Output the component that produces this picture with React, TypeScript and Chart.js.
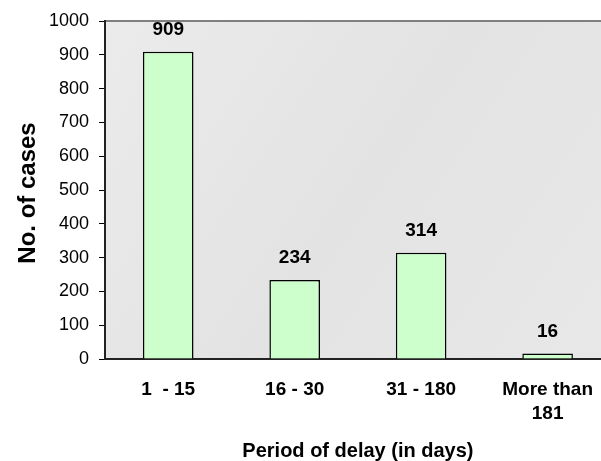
import React, { useEffect, useRef } from "react";
import { Chart, registerables } from "chart.js";

Chart.register(...registerables);

const CATEGORIES: (string | string[])[] = ["1  - 15", "16 - 30", "31 - 180", ["More than", "181"]];
const CASES: number[] = [909, 234, 314, 16];
const Y_TICKS: number[] = [0, 100, 200, 300, 400, 500, 600, 700, 800, 900, 1000];
const X_TITLE = "Period of delay (in days)";
const Y_TITLE = "No. of cases";

const FONT = '"Liberation Sans", Arial, sans-serif';

const backgroundPlugin = {
  id: "marbleBg",
  beforeDraw(chart: any) {
    const { ctx, chartArea } = chart;
    const { left, top, right, bottom } = chartArea;
    ctx.save();
    const g = ctx.createLinearGradient(left, top, right, bottom);
    g.addColorStop(0, "#ebebeb");
    g.addColorStop(0.5, "#e3e3e3");
    g.addColorStop(1, "#e8e8e8");
    ctx.fillStyle = g;
    ctx.fillRect(left, top, right - left, bottom - top);
    ctx.strokeStyle = "#808080";
    ctx.lineWidth = 2;
    ctx.beginPath();
    ctx.moveTo(left, top);
    ctx.lineTo(right, top);
    ctx.stroke();
    ctx.restore();
  },
};

const labelsPlugin = {
  id: "valueLabels",
  afterDatasetsDraw(chart: any) {
    const { ctx } = chart;
    const meta = chart.getDatasetMeta(0);
    ctx.save();
    ctx.font = `bold 19px ${FONT}`;
    ctx.fillStyle = "#000";
    ctx.textAlign = "center";
    ctx.textBaseline = "alphabetic";
    meta.data.forEach((bar: any, i: number) => {
      ctx.fillText(String(CASES[i]), bar.x, bar.y - 17);
    });
    ctx.restore();
  },
  afterDraw(chart: any) {
    const { ctx } = chart;
    ctx.save();
    ctx.translate(35, 193);
    ctx.rotate(-Math.PI / 2);
    ctx.font = `bold 24px ${FONT}`;
    ctx.fillStyle = "#000";
    ctx.textAlign = "center";
    ctx.textBaseline = "alphabetic";
    ctx.fillText(Y_TITLE, 0, 0);
    ctx.restore();
  },
};

export default function App() {
  const ref = useRef<HTMLCanvasElement | null>(null);

  useEffect(() => {
    if (!ref.current) return;
    const chart = new Chart(ref.current, {
      type: "bar",
      data: {
        labels: CATEGORIES,
        datasets: [
          {
            data: CASES,
            backgroundColor: "#ccffcc",
            borderColor: "#000000",
            borderWidth: 1.5,
            barPercentage: 0.4,
            categoryPercentage: 1,
          },
        ],
      },
      options: {
        responsive: false,
        animation: false,
        layout: { padding: { top: 21, left: 0, right: 0, bottom: 0 } },
        plugins: {
          legend: { display: false },
          tooltip: { enabled: false },
          title: { display: false },
        },
        scales: {
          x: {
            grid: { display: false, drawTicks: false },
            border: { display: true, color: "#222", width: 2 },
            ticks: {
              color: "#000",
              font: { family: FONT, size: 19, weight: "bold", lineHeight: 1.25 },
              padding: 19,
              maxRotation: 0,
              autoSkip: false,
            },
            title: {
              display: true,
              text: X_TITLE,
              color: "#000",
              font: { family: FONT, size: 20, weight: "bold", lineHeight: 1 },
              padding: { top: 0, bottom: 0 },
            },
            afterFit: (scale: any) => {
              scale.height = 102;
            },
          },
          y: {
            min: 0,
            max: 1000,
            afterBuildTicks: (scale: any) => {
              scale.ticks = Y_TICKS.map((v) => ({ value: v }));
            },
            grid: {
              drawOnChartArea: false,
              drawTicks: true,
              tickLength: 6,
              color: "#000",
              lineWidth: 1,
            },
            border: { display: true, color: "#222", width: 2 },
            ticks: {
              color: "#000",
              font: { family: FONT, size: 18 },
              padding: 10,
              callback: (v: any) => String(v),
            },
            afterFit: (scale: any) => {
              scale.width = 105;
            },
          },
        },
      },
      plugins: [backgroundPlugin, labelsPlugin],
    });
    return () => chart.destroy();
  }, []);

  return (
    <div
      style={{
        position: "fixed",
        left: 0,
        top: 0,
        width: 601,
        height: 461,
        overflow: "hidden",
        background: "#fff",
      }}
    >
      <canvas ref={ref} width={612} height={461} style={{ display: "block" }} />
    </div>
  );
}
